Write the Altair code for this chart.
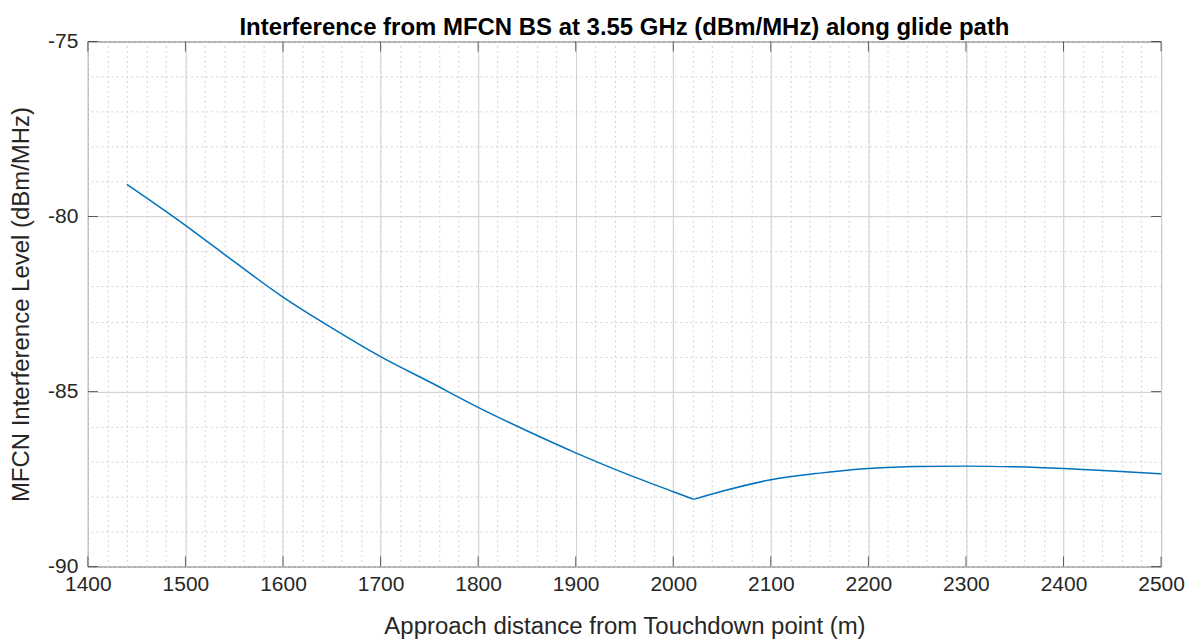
import altair as alt
import pandas as pd

distance_m = [1440, 1500, 1550, 1600, 1650, 1700, 1750, 1800, 1850, 1900, 1950, 2000,
              2021, 2050, 2100, 2150, 2200, 2250, 2300, 2350, 2400, 2450, 2500]
interference_dbm = [-79.08, -80.25, -81.29, -82.30, -83.18, -84.00, -84.72, -85.45, -86.12,
                    -86.75, -87.33, -87.86, -88.08, -87.85, -87.52, -87.33, -87.20, -87.14,
                    -87.13, -87.15, -87.20, -87.27, -87.35]
# branch: descending part up to the kink, rising part after it
branch = ["a"] * 13 + ["b"] * 10

x_ticks = [1400, 1500, 1600, 1700, 1800, 1900, 2000, 2100, 2200, 2300, 2400, 2500]
y_ticks = [-90, -85, -80, -75]
x_minor = list(range(1400, 2501, 20))
y_minor = list(range(-90, -74, 1))

rows = [{"x": x, "y": y, "b": b} for x, y, b in zip(distance_m, interference_dbm, branch)]
# kink point belongs to both branches
rows.append({"x": distance_m[12], "y": interference_dbm[12], "b": "b"})
df = pd.DataFrame(rows).sort_values(["b", "x"])

FONT = "Liberation Sans"
TXT = "#262626"

xs = alt.Scale(domain=[1400, 2500], nice=False, zero=False)
ys = alt.Scale(domain=[-90, -75], nice=False, zero=False)

minor = alt.Chart(df).mark_line(opacity=0).encode(
    x=alt.X("x:Q", scale=xs, axis=alt.Axis(values=x_minor, grid=True, gridDash=[2, 3],
                                          gridColor="#d4d4d4", gridWidth=1, labels=False,
                                          ticks=False, domain=False, title=None, orient="top",
                                          minExtent=0, maxExtent=0, offset=0)),
    y=alt.Y("y:Q", scale=ys, axis=alt.Axis(values=y_minor, grid=True, gridDash=[2, 3],
                                          gridColor="#d4d4d4", gridWidth=1, labels=False,
                                          ticks=False, domain=False, title=None, orient="right",
                                          minExtent=0, maxExtent=0, offset=0)),
)

major = alt.Chart(df).mark_line(color="#0072BD", strokeWidth=1.5, interpolate="monotone").encode(
    x=alt.X("x:Q", scale=xs, axis=alt.Axis(values=x_ticks, grid=True, gridColor="#d0d0d0",
                                          gridWidth=1, domain=False, ticks=False, orient="bottom",
                                          format="d", labelFlush=False,
                                          labelPadding=7, labelFontSize=21, labelFont=FONT,
                                          labelColor=TXT,
                                          title="Approach distance from Touchdown point (m)",
                                          titleFontSize=24, titleFont=FONT, titleColor=TXT,
                                          titleFontWeight="normal", titlePadding=20)),
    y=alt.Y("y:Q", scale=ys, axis=alt.Axis(values=y_ticks, grid=True, gridColor="#d0d0d0",
                                          gridWidth=1, domain=False, ticks=False, orient="left",
                                          labelExpr="replace(format(datum.value, 'd'), '\u2212', '-')",
                                          labelFlush=False,
                                          labelPadding=10, labelFontSize=21, labelFont=FONT,
                                          labelColor=TXT,
                                          title="MFCN Interference Level (dBm/MHz)",
                                          titleFontSize=24, titleFont=FONT, titleColor=TXT,
                                          titleFontWeight="normal", titlePadding=14)),
    detail="b:N",
)

xt = pd.DataFrame({"x": x_ticks})
yt = pd.DataFrame({"y": y_ticks})

tick_bottom = alt.Chart(xt).mark_tick(orient="vertical", size=10, yOffset=-5, color=TXT,
                                      thickness=1).encode(
    x=alt.X("x:Q", scale=xs, axis=None), y=alt.YDatum(-90, scale=ys, axis=None))
tick_top = alt.Chart(xt).mark_tick(orient="vertical", size=10, yOffset=5, color=TXT,
                                   thickness=1).encode(
    x=alt.X("x:Q", scale=xs, axis=None), y=alt.YDatum(-75, scale=ys, axis=None))
tick_left = alt.Chart(yt).mark_tick(orient="horizontal", size=10, xOffset=5, color=TXT,
                                    thickness=1).encode(
    y=alt.Y("y:Q", scale=ys, axis=None), x=alt.XDatum(1400, scale=xs, axis=None))
tick_right = alt.Chart(yt).mark_tick(orient="horizontal", size=10, xOffset=-5, color=TXT,
                                     thickness=1).encode(
    y=alt.Y("y:Q", scale=ys, axis=None), x=alt.XDatum(2500, scale=xs, axis=None))

chart = alt.layer(minor, major, tick_bottom, tick_top, tick_left, tick_right).resolve_axis(
    x="independent", y="independent"
).properties(
    width=1075, height=526,
    title=alt.TitleParams("Interference from MFCN BS at 3.55 GHz (dBm/MHz) along glide path",
                          font=FONT, fontSize=24, fontWeight="bold", color="black",
                          offset=7, dy=17),
    autosize=alt.AutoSizeParams(type="none"),
    padding={"left": 80, "top": 33, "right": 30, "bottom": 80},
).configure_view(stroke="#262626", strokeWidth=1)

chart.save("out.html", embed_options={"renderer": "svg", "actions": False})
